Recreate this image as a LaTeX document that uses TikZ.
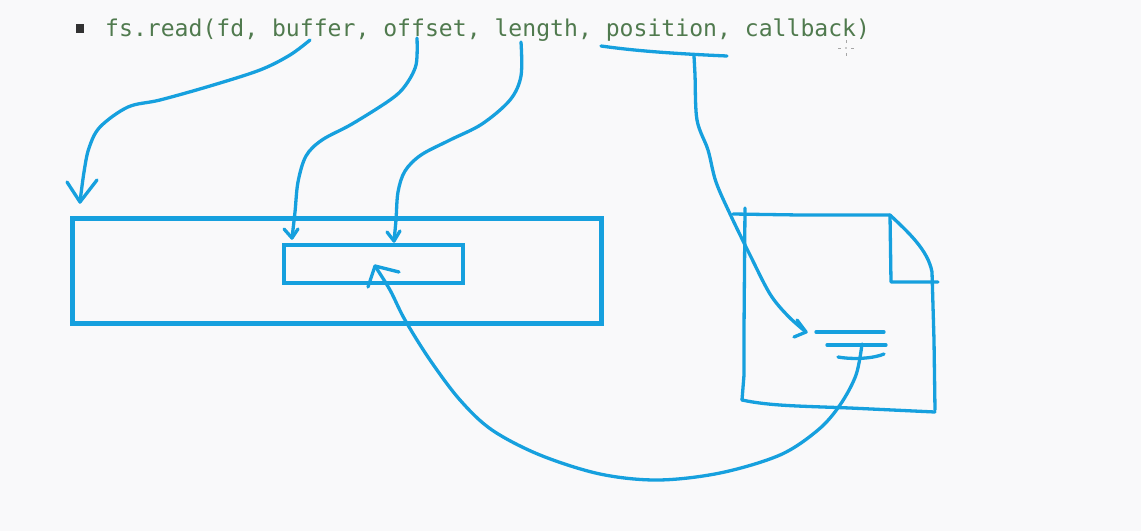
\documentclass[tikz,border=0pt]{standalone}
\usepackage{fontspec}
\newfontfamily\codefont{DejaVu Sans Mono}
\definecolor{bg}{RGB}{249,249,250}
\definecolor{pen}{RGB}{22,160,222}
\definecolor{codegreen}{RGB}{80,122,78}
\definecolor{bulletgray}{RGB}{50,50,50}
\tikzset{
  ink/.style={draw=pen, line width=3.3pt, line cap=round, line join=round},
  thickink/.style={draw=pen, line width=5pt, line join=miter},
  curve/.style={ink, smooth, tension=0.55},
}
\begin{document}
\begin{tikzpicture}[x=1pt,y=-1pt]
\fill[bg] (0,0) rectangle (1141,531);
\useasboundingbox (0,0) rectangle (1141,531);

% code line
\fill[bulletgray] (76,24) rectangle (84,33);
\node[anchor=west, inner sep=0pt, text=codegreen, font=\codefont\fontsize{23.1}{27}\selectfont] (code) at (105,30) {fs.read(fd, buffer, offset, length, position, callback)};

% buffer rectangles
\draw[thickink] (72,218) rectangle (601,323);
\node[draw=pen, line width=3.3pt, minimum width=179pt, minimum height=38pt, inner sep=0pt] (sub) at (373.5,264) {};

% file document
\draw[ink] (745,208) -- (744,330) -- (744,375) -- (742,400);
\draw[ink] (733,214) -- (800,215) -- (890,215);
\draw[ink] (890,215) .. controls (908,232) and (928,250) .. (932,272) -- (934,340) -- (935,410);
\draw[ink] (890,215) -- (891,282) -- (938,282);
\draw[ink] (742,400) .. controls (770,406) and (800,406) .. (850,408) -- (935,412);
\draw[ink] (816,332) -- (884,332);
\draw[ink] (827,345) -- (886,345);
\draw[ink] (838,357) .. controls (855,360) and (875,358) .. (884,354);

% named points
\coordinate (fdS) at (310,40);
\coordinate (fdT) at (80,202);
\coordinate (offS) at (417,38);
\coordinate (offT) at (292,238);
\coordinate (lenS) at (521,42);
\coordinate (lenT) at (394,241);
\coordinate (posA) at (601,46);
\coordinate (posB) at (727,56);
\coordinate (posS) at (694,56);
\coordinate (posT) at (806,332);
\coordinate (retS) at (862,344);
\coordinate (retT) at (375,266);

% fd -> buffer
\draw[curve] plot coordinates {(fdS) (290,55) (260,70) (210,86) (160,100) (128,107) (100,127) (89,148) (84,172) (fdT)};
\draw[ink] (67,182) -- (fdT) -- (97,180);

% offset -> sub-buffer start
\draw[curve] plot coordinates {(offS) (416,65) (405,86) (390,100) (352,124) (322,140) (306,156) (298,182) (295,212) (offT)};
\draw[ink] (284,229) -- (offT) -- (298,229);

% length -> sub-buffer
\draw[curve] plot coordinates {(lenS) (521,76) (510,100) (482,124) (450,140) (421,155) (405,171) (398,192) (396,220) (lenT)};
\draw[ink] (387,232) -- (lenT) -- (400,231);

% position underline and arrow into file
\draw[ink] (posA) .. controls (630,50) and (660,53) .. (posB);
\draw[curve] plot coordinates {(posS) (695,75) (697,120) (708,150) (716,182) (731,216) (750,255) (770,294) (788,316) (posT)};
\draw[ink] (797,320) -- (posT) -- (794,337);

% return from file to buffer
\draw[curve] plot coordinates {(retS) (856,375) (840,405) (818,430) (780,455) (720,473) (658,480) (600,474) (540,455) (492,430) (460,400) (430,360) (405,320) (390,290) (retT)};
\draw[ink] (368,287) -- (retT) -- (399,272);

% cursor crosshair
\draw[gray!70, line width=0.8pt] (838,48) -- (841,48) (851,48) -- (854,48) (846,40) -- (846,43) (846,53) -- (846,56);
\fill[gray!80] (846,48) circle (0.9pt);
\end{tikzpicture}
\end{document}
